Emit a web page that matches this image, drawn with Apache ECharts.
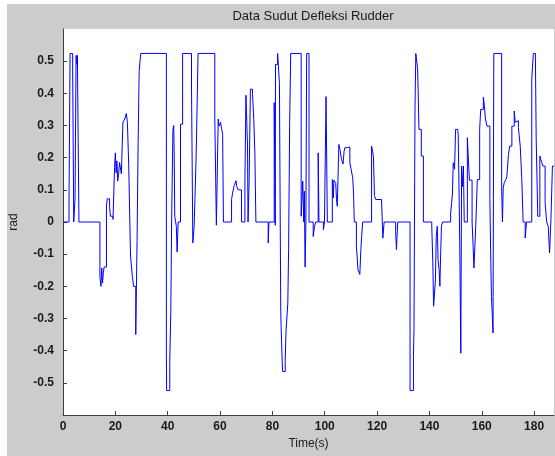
<!DOCTYPE html>
<html>
<head>
<meta charset="utf-8">
<script src="https://cdn.jsdelivr.net/npm/echarts@6/dist/echarts.min.js"></script>
<style>
html,body{margin:0;padding:0;background:#fff;}
#chart{width:555px;height:456px;}
</style>
</head>
<body>
<div id="chart"></div>
<script>
// Time (s) at which each held rudder value starts
const timeValues = [
0,2.3,2.7,3.7,4.1,4.6,5.0,5.3,5.5,5.8,6.1,
14.1,14.5,14.8,15.1,15.4,15.7,16.6,16.9,17.8,18.1,19.1,19.7,20.0,20.3,20.6,20.9,21.2,21.6,22.0,22.3,
22.9,23.6,24.2,24.6,25.1,25.8,26.5,27.0,27.8,28.3,28.7,29.1,29.4,29.7,
39.5,39.6,40.8,41.2,41.5,42.0,42.3,42.5,42.7,43.3,43.6,44.0,44.9,45.7,
49.1,49.6,50.1,50.4,50.8,51.1,51.6,
58.0,58.6,59.3,59.6,60.2,60.6,61.0,61.3,
64.4,64.8,65.4,66.1,66.4,66.9,68.2,69.5,69.9,70.5,70.7,71.1,71.6,72.4,72.9,73.3,73.7,
78.4,78.7,80.7,81.1,81.2,82.0,82.4,82.7,83.0,83.2,83.5,83.9,84.9,85.2,85.9,86.2,86.6,87.0,
91.0,91.6,92.0,92.2,92.5,92.8,93.1,94.0,95.6,96.1,96.6,97.5,97.8,99.5,99.9,100.5,101.0,
102.9,103.3,103.5,104.2,104.5,104.8,105.4,105.8,106.4,107.0,107.4,107.7,108.6,109.6,110.1,110.7,111.0,111.3,
112.1,112.3,112.7,113.4,113.8,114.1,114.5,
117.9,118.3,118.6,119.0,119.5,121.7,122.0,122.2,122.7,127.1,127.4,127.9,
132.6,133.9,134.1,134.5,134.8,135.5,135.7,136.0,136.9,137.7,
140.9,141.3,141.6,142.3,142.6,143.0,143.3,143.7,144.0,144.3,144.6,145.0,
148.1,148.5,148.8,149.1,149.6,150.0,150.8,151.0,151.3,151.6,152.0,152.3,152.7,153.0,153.3,
154.5,155.0,155.3,156.3,156.7,157.0,157.7,158.3,159.2,159.6,160.6,161.0,161.4,162.0,
163.1,163.4,163.7,164.0,164.3,164.6,
167.6,167.9,168.2,168.6,169.2,169.6,170.2,170.7,171.5,172.4,172.8,173.3,174.0,174.7,175.3,175.8,
176.6,177.1,179.1,179.7,180.5,180.8,181.4,182.2,182.9,183.4,184.2,184.8,185.4,185.9,186.4,187.0,187.6
];
// Rudder deflection (rad)
const rudderValues = [
0,0.072,0.524,0.473,0,0.072,0.518,0.49,0.518,0.25,0,
-0.169,-0.2,-0.143,-0.19,-0.16,-0.14,0.049,0.072,0.049,0.018,0.008,0.169,0.215,0.153,0.19,0.127,0.145,0.185,0.19,0.15,
0.311,0.32,0.337,0.31,0.179,-0.106,-0.169,-0.2,-0.35,-0.057,0.244,0.467,0.498,0.524,
-0.418,-0.524,-0.43,-0.273,0,0.288,0.3,0.205,0.018,-0.013,-0.093,0,0.304,0.524,
0.423,-0.065,-0.013,0.07,0.184,0.298,0.524,
0.324,-0.01,0.32,0.298,0.31,0.29,0.272,0,
0.07,0.09,0.113,0.128,0.11,0.1,0,0.122,0.394,0.236,0,0.122,0.413,0.4,0.319,0.215,0,
-0.065,0,0.371,-0.01,0.49,0.524,0.47,0.43,0,-0.278,-0.371,-0.465,-0.43,-0.34,-0.252,-0.086,0.3,0.524,
0.018,0.127,0,0.096,-0.14,-0.01,0.524,0,-0.045,-0.013,0,0.215,0,-0.024,0,0.39,0,
0.132,0.075,0.13,0.12,0.07,0.049,0.241,0.226,0.195,0.18,0.22,0.231,0.233,0.184,0.163,0.137,0.09,0,
-0.08,-0.096,-0.148,-0.163,-0.086,-0.045,0,
0.236,0.22,0.204,0.082,0.07,0.065,0,-0.05,0,-0.03,-0.086,0,
-0.524,-0.418,-0.335,0.36,0.524,0.475,0.407,0.288,0.205,0,
-0.013,-0.127,-0.262,-0.18,-0.045,-0.013,-0.117,-0.148,-0.2,-0.096,-0.013,0,
0.028,0.06,0.09,0.184,0.164,0.288,0.29,0.272,0.11,-0.076,-0.408,0.174,0.11,0.174,0,
0.262,0.174,0.13,0,-0.076,-0.143,-0.013,0.132,0.288,0.35,0.388,0.362,0.32,0.298,
0.07,-0.096,-0.232,-0.283,-0.345,0.524,
0.106,0,0.106,0.122,0.132,0.142,0.21,0.236,0.298,0.345,0.31,0.315,0.293,0.236,0.132,0,
-0.05,0,0.444,0.524,0.51,0.257,0.018,0.205,0.185,0.174,0.06,0,-0.013,-0.096,0,0.174,0.174
];
const xTicks = [0,20,40,60,80,100,120,140,160,180];
const yTicks = [-0.5,-0.4,-0.3,-0.2,-0.1,0,0.1,0.2,0.3,0.4,0.5];

const seriesData = timeValues.map((t,i)=>[t, rudderValues[i]]);

const chart = echarts.init(document.getElementById('chart'), null, {renderer:'canvas'});
const axisText = {color:'#1a1a1a', fontSize:12, fontFamily:'Liberation Sans, Arial, sans-serif', fontWeight:'bold'};
chart.setOption({
  animation:false,
  backgroundColor:'#ffffff',
  graphic:[
    {type:'rect', z:-10, shape:{x:7,y:4,width:548,height:452}, style:{fill:'#cccccc'}}
  ],
  title:{
    text:'Data Sudut Defleksi Rudder',
    left:308, top:5, textAlign:'center',
    textStyle:{fontSize:13, fontWeight:'normal', color:'#1a1a1a', fontFamily:'Liberation Sans, Arial, sans-serif'}
  },
  grid:{left:63, top:29, right:1, bottom:41, show:true, backgroundColor:'#ffffff', borderWidth:0, containLabel:false},
  xAxis:{
    type:'value', min:0, max:187.6,
    name:'Time(s)', nameLocation:'middle', nameGap:22,
    nameTextStyle:{fontSize:12, color:'#1a1a1a', fontFamily:'Liberation Sans, Arial, sans-serif'},
    axisLine:{show:true, onZero:false, lineStyle:{color:'#404040', width:1}},
    axisTick:{show:true, inside:true, length:4, customValues:xTicks, lineStyle:{color:'#404040'}},
    axisLabel:Object.assign({customValues:xTicks, margin:6}, axisText),
    splitLine:{show:false}
  },
  yAxis:{
    type:'value', min:-0.6, max:0.6,
    name:'rad', nameLocation:'middle', nameGap:43, nameRotate:90,
    nameTextStyle:{fontSize:12, color:'#1a1a1a', fontFamily:'Liberation Sans, Arial, sans-serif'},
    axisLine:{show:true, onZero:false, lineStyle:{color:'#404040', width:1}},
    axisTick:{show:true, inside:true, length:4, customValues:yTicks, lineStyle:{color:'#404040'}},
    axisLabel:Object.assign({customValues:yTicks, margin:9, formatter:v=>String(Math.round(v*10)/10)}, axisText),
    splitLine:{show:false}
  },
  series:[{
    type:'line', step:'end', data:seriesData, showSymbol:false,
    lineStyle:{color:'#0000ff', width:1}, itemStyle:{color:'#0000ff'}
  }]
});
</script>
</body>
</html>
